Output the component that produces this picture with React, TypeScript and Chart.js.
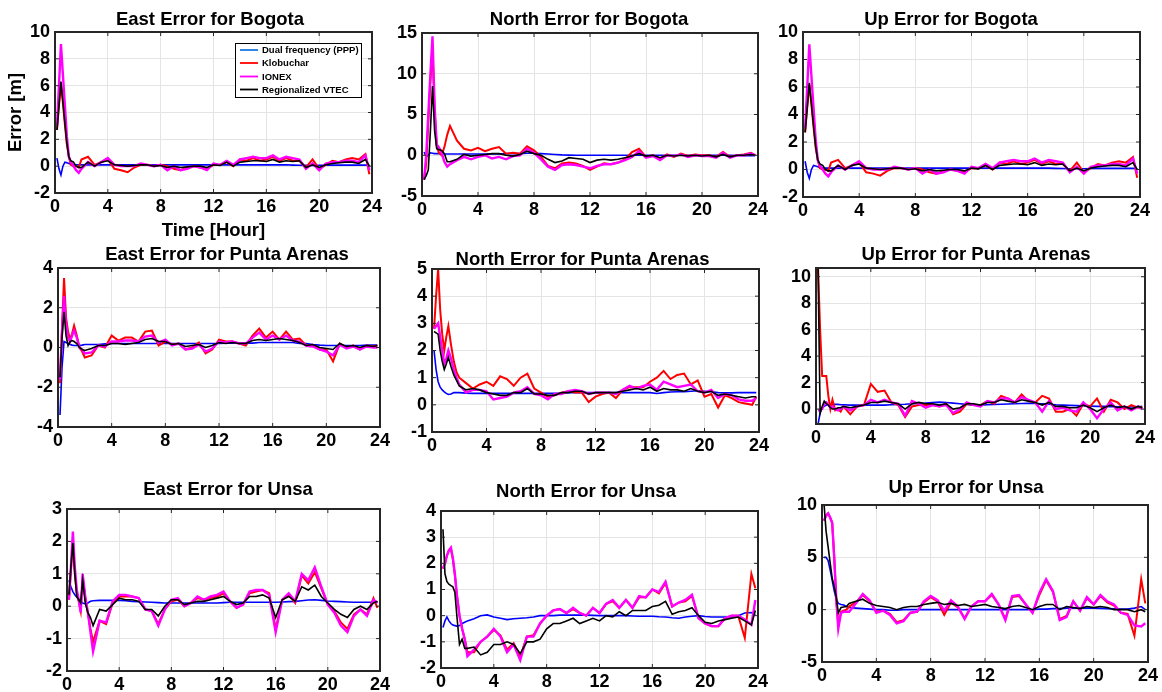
import React, { useEffect, useRef } from "react";
import { Chart, registerables } from "chart.js";

Chart.register(...registerables);

const FONT = '"Liberation Sans", Arial, Helvetica, sans-serif';

// Time axis (hours) shared by every series
const T = [
  0.15, 0.3, 0.45, 0.6, 0.75, 0.9, 1.05, 1.2, 1.4, 1.6, 1.8, 2.0,
  2.5, 3, 3.5, 4, 4.5, 5, 5.5, 6, 6.5, 7, 7.5, 8,
  8.5, 9, 9.5, 10, 10.5, 11, 11.5, 12, 12.5, 13, 13.5, 14,
  14.5, 15, 15.5, 16, 16.5, 17, 17.5, 18, 18.5, 19, 19.5, 20,
  20.5, 21, 21.5, 22, 22.5, 23, 23.5, 23.8,
];

const X_TICKS = [0, 4, 8, 12, 16, 20, 24];

const SERIES_LABELS = ["Dual frequency (PPP)", "Klobuchar", "IONEX", "Regionalized VTEC"];
const SERIES_COLORS = ["#0000ff", "#ff0000", "#ff00ff", "#000000"];
const LEGEND_COLORS = ["#1a78e0", "#ff0000", "#ff00ff", "#000000"];

// ---------- East Error for Bogota ----------
const EB_PPP = [
  0.6, -0.2, -0.65, 0.0, 0.3, 0.25, 0.2, 0.15, 0.12, 0.1, 0.1, 0.1,
  0.1, 0.1, 0.1, 0.1, 0.1, 0.1, 0.1, 0.1, 0.1, 0.1, 0.1, 0.1,
  0.1, 0.1, 0.1, 0.1, 0.1, 0.1, 0.1, 0.1, 0.1, 0.1, 0.1, 0.1,
  0.1, 0.1, 0.1, 0.1, 0.1, 0.1, 0.1, 0.08, 0.07, 0.06, 0.06, 0.06,
  0.07, 0.08, 0.08, 0.08, 0.08, 0.08, 0.08, 0.06,
];
const EB_KLO = [
  2.7, 4.5, 6.2, 4.7, 3.1, 1.6, 0.7, 0.1, 0.0, 0.0, -0.1, 0.5,
  0.7, 0.1, 0.3, 0.5, -0.2, -0.3, -0.45, -0.1, 0.1, 0.1, 0.0, 0.1,
  0.0, -0.2, -0.3, -0.1, 0.0, -0.1, -0.2, 0.1, 0.1, 0.3, 0.0, 0.5,
  0.4, 0.6, 0.4, 0.5, 0.7, 0.4, 0.6, 0.4, 0.4, -0.1, 0.5, -0.2,
  0.1, 0.4, 0.3, 0.5, 0.6, 0.5, 0.9, -0.6,
];
const EB_ION = [
  3.0, 6.0, 9.1, 6.8, 4.5, 2.2, 0.7, 0.3, 0.0, -0.3, -0.5, -0.2,
  0.3, 0.0, 0.3, 0.6, 0.1, 0.0, 0.0, 0.0, 0.2, 0.1, 0.0, 0.1,
  -0.3, 0.0, -0.3, -0.2, 0.0, -0.1, -0.3, 0.2, 0.1, 0.4, 0.1, 0.5,
  0.6, 0.7, 0.6, 0.6, 0.8, 0.5, 0.7, 0.6, 0.5, -0.2, 0.2, -0.3,
  0.2, 0.3, 0.3, 0.4, 0.4, 0.3, 0.8, -0.3,
];
const EB_VTEC = [
  2.7, 4.5, 6.3, 4.8, 3.2, 1.7, 0.7, 0.4, 0.3, 0.0, -0.1, -0.1,
  0.3, 0.0, 0.3, 0.4, 0.1, 0.05, 0.0, 0.05, 0.1, 0.1, 0.0, 0.05,
  -0.1, 0.0, -0.1, -0.05, 0.0, 0.0, -0.1, 0.1, 0.05, 0.3, 0.0, 0.3,
  0.35, 0.4, 0.4, 0.35, 0.5, 0.3, 0.4, 0.35, 0.4, -0.1, 0.1, -0.1,
  0.1, 0.2, 0.25, 0.3, 0.3, 0.2, 0.5, 0.0,
];

// ---------- North Error for Bogota ----------
const NB_PPP = [
  0.4, -0.2, 0.0, 0.3, 0.25, 0.2, 0.2, 0.2, 0.15, 0.15, 0.15, 0.15,
  0.15, 0.15, 0.15, 0.15, 0.15, 0.15, 0.15, 0.2, 0.2, 0.2, 0.25, 0.25,
  0.2, 0.15, 0.1, 0.05, 0.02, 0.0, 0.0, 0.0, 0.0, 0.0, 0.0, 0.0,
  0.0, 0.0, 0.0, 0.0, 0.0, 0.0, 0.0, 0.0, 0.0, 0.0, 0.0, 0.0,
  0.0, 0.0, 0.0, -0.02, -0.03, -0.04, -0.05, -0.05,
];
const NB_KLO = [
  -3.0, -1.0, 4.0, 9.0, 13.0, 5.5, 1.2, 0.3, 0.0, 1.0, 2.5, 3.6,
  1.8, 0.8, 0.6, 0.9, 0.5, 0.8, 1.0, 0.2, 0.3, 0.2, 1.1, 0.6,
  -0.2, -1.3, -1.6, -1.0, -0.9, -1.0, -1.3, -1.8, -1.4, -1.0, -1.1, -0.9,
  -0.5, 0.4, 0.8, -0.2, 0.0, -0.4, 0.1, -0.2, 0.2, -0.1, 0.1, 0.0,
  0.0, -0.2, 0.4, -0.2, 0.0, 0.1, 0.3, 0.0,
];
const NB_ION = [
  -3.0, 0.0, 5.0, 10.0, 14.6, 6.0, 1.3, 1.0, 0.3, -0.8, -1.4, -1.1,
  -0.6, -0.2, -0.5, -0.2, 0.0, -0.4, -0.2, -0.5, -0.1, 0.0, 0.8, 0.3,
  -0.5, -1.4, -1.8, -1.2, -1.1, -1.2, -1.4, -1.6, -1.3, -1.1, -1.1, -0.9,
  -0.6, -0.2, 0.5, -0.3, -0.1, -0.6, 0.0, -0.1, 0.1, -0.2, 0.0, -0.1,
  -0.1, -0.3, 0.3, -0.3, 0.0, 0.0, 0.2, 0.0,
];
const NB_VTEC = [
  -3.0, -2.5, -1.8, 3.0, 8.5, 3.0, 0.8, 0.7, 0.6, 0.2, -0.8, -0.8,
  -0.5, 0.1, -0.1, 0.0, 0.1, 0.2, 0.2, 0.0, -0.1, 0.1, 0.5, 0.2,
  0.0, -0.5, -0.9, -0.7, -0.3, -0.4, -0.5, -0.9, -0.6, -0.5, -0.6, -0.5,
  -0.3, -0.1, 0.2, -0.1, 0.0, -0.3, 0.0, -0.1, 0.0, -0.1, 0.0, -0.1,
  0.0, -0.2, 0.1, -0.2, 0.0, 0.0, 0.1, 0.0,
];

// ---------- Up Error for Bogota (identical curves to the East panel in the source figure) ----------
const UB_PPP = EB_PPP;
const UB_KLO = EB_KLO;
const UB_ION = EB_ION;
const UB_VTEC = EB_VTEC;

// ---------- East Error for Punta Arenas ----------
const EP_PPP = [
  -3.4, -1.0, 0.3, 0.25, 0.2, 0.15, 0.12, 0.1, 0.1, 0.1, 0.12, 0.15,
  0.15, 0.15, 0.18, 0.2, 0.2, 0.2, 0.2, 0.2, 0.2, 0.2, 0.2, 0.2,
  0.2, 0.2, 0.2, 0.2, 0.2, 0.2, 0.2, 0.2, 0.22, 0.22, 0.22, 0.22,
  0.22, 0.25, 0.25, 0.25, 0.25, 0.25, 0.25, 0.2, 0.2, 0.15, 0.12, 0.1,
  0.1, 0.1, 0.1, 0.1, 0.1, 0.12, 0.12, 0.12,
];
const EP_KLO = [
  -1.8, 1.0, 3.5, 1.5, 0.8, 0.4, 0.7, 1.1, 0.6, 0.0, -0.2, -0.5,
  -0.4, 0.1, 0.0, 0.6, 0.35, 0.5, 0.5, 0.3, 0.8, 0.85, 0.1, 0.3,
  0.15, 0.2, -0.1, 0.0, 0.25, -0.3, -0.1, 0.4, 0.3, 0.3, 0.2, 0.1,
  0.6, 0.95, 0.5, 0.8, 0.4, 0.8, 0.4, 0.45, 0.1, 0.1, -0.1, -0.1,
  -0.7, 0.2, 0.0, 0.1, -0.1, 0.1, 0.05, 0.1,
];
const EP_ION = [
  -1.6, 0.8, 2.6, 1.2, 0.5, 0.3, 0.6, 0.85, 0.5, 0.0, -0.1, -0.3,
  -0.25, 0.1, 0.05, 0.3, 0.3, 0.35, 0.35, 0.3, 0.55, 0.6, 0.25, 0.4,
  0.1, 0.2, -0.1, -0.05, 0.15, -0.2, -0.05, 0.3, 0.25, 0.3, 0.2, 0.2,
  0.5, 0.75, 0.4, 0.6, 0.4, 0.6, 0.35, 0.3, 0.1, 0.05, -0.1, -0.2,
  -0.4, 0.15, -0.05, 0.05, -0.1, 0.05, 0.0, 0.0,
];
const EP_VTEC = [
  -1.5, 0.5, 1.8, 0.6, 0.1, 0.3, 0.35, 0.3, 0.2, 0.0, -0.1, -0.15,
  -0.05, 0.1, 0.1, 0.2, 0.2, 0.15, 0.2, 0.25, 0.4, 0.45, 0.3, 0.3,
  0.15, 0.2, 0.05, 0.1, 0.15, 0.0, 0.1, 0.25, 0.2, 0.25, 0.2, 0.2,
  0.35, 0.4, 0.35, 0.4, 0.45, 0.4, 0.35, 0.25, 0.1, 0.15, 0.0, -0.05,
  -0.1, 0.2, 0.05, 0.1, 0.0, 0.1, 0.05, 0.1,
];

// ---------- North Error for Punta Arenas ----------
const NP_PPP = [
  2.0, 1.3, 0.85, 0.65, 0.55, 0.48, 0.42, 0.38, 0.4, 0.45, 0.45, 0.45,
  0.43, 0.42, 0.42, 0.42, 0.42, 0.42, 0.42, 0.42, 0.42, 0.42, 0.42, 0.42,
  0.42, 0.42, 0.43, 0.45, 0.45, 0.45, 0.45, 0.45, 0.45, 0.45, 0.45, 0.45,
  0.45, 0.45, 0.45, 0.45, 0.42, 0.45, 0.47, 0.48, 0.48, 0.5, 0.52, 0.5,
  0.48, 0.45, 0.44, 0.44, 0.45, 0.45, 0.45, 0.45,
];
const NP_KLO = [
  2.8, 4.0, 5.0, 3.5, 2.6, 2.0, 2.5, 2.9, 2.2, 1.6, 1.2, 1.0,
  0.8, 0.6, 0.75, 0.85, 0.7, 1.05, 0.95, 0.7, 1.0, 1.15, 0.6, 0.45,
  0.3, 0.35, 0.45, 0.5, 0.45, 0.45, 0.1, 0.3, 0.4, 0.45, 0.25, 0.55,
  0.65, 0.65, 0.65, 0.85, 1.0, 1.25, 0.95, 1.1, 1.15, 0.75, 0.9, 0.3,
  0.4, -0.1, 0.35, 0.25, 0.1, 0.05, 0.0, 0.3,
];
const NP_ION = [
  2.8, 2.9, 3.0, 2.5, 2.0, 1.5, 1.7, 2.0, 1.7, 1.3, 1.0, 0.75,
  0.45, 0.55, 0.55, 0.5, 0.2, 0.25, 0.3, 0.45, 0.5, 0.65, 0.4, 0.35,
  0.2, 0.4, 0.4, 0.5, 0.55, 0.5, 0.4, 0.45, 0.45, 0.45, 0.4, 0.55,
  0.7, 0.6, 0.7, 0.75, 0.55, 0.85, 0.75, 0.65, 0.7, 0.75, 0.5, 0.45,
  0.55, 0.25, 0.4, 0.35, 0.2, 0.15, 0.15, 0.25,
];
const NP_VTEC = [
  2.7, 2.65, 2.6, 2.0, 1.6, 1.3, 1.5, 1.75, 1.4, 1.1, 0.9, 0.7,
  0.55, 0.6, 0.55, 0.45, 0.4, 0.35, 0.35, 0.45, 0.45, 0.6, 0.4, 0.4,
  0.35, 0.35, 0.45, 0.45, 0.5, 0.5, 0.4, 0.45, 0.45, 0.45, 0.45, 0.5,
  0.55, 0.6, 0.55, 0.65, 0.5, 0.6, 0.55, 0.55, 0.5, 0.6, 0.5, 0.45,
  0.5, 0.35, 0.4, 0.35, 0.3, 0.25, 0.3, 0.3,
];

// ---------- Up Error for Punta Arenas ----------
const UP_PPP = [
  -1.14, -0.3, 0.1, 0.2, 0.3, 0.32, 0.34, 0.35, 0.35, 0.35, 0.33, 0.32,
  0.3, 0.3, 0.3, 0.3, 0.3, 0.3, 0.32, 0.34, 0.36, 0.4, 0.42, 0.45,
  0.5, 0.52, 0.5, 0.45, 0.4, 0.35, 0.3, 0.3, 0.32, 0.34, 0.36, 0.38,
  0.4, 0.42, 0.43, 0.42, 0.4, 0.36, 0.32, 0.3, 0.28, 0.26, 0.25, 0.22,
  0.2, 0.2, 0.18, 0.17, 0.16, 0.15, 0.17, 0.2,
];
const UP_KLO = [
  10.7, 6.0, 2.5, 2.5, 2.5, 1.0, 0.0, 0.7, -0.1, 0.0, -0.2, 0.2,
  -0.4, 0.2, 0.3, 1.9, 1.3, 1.4, 0.5, 0.3, -0.6, 0.2, 0.3, 0.3,
  0.3, 0.2, 0.4, -0.4, -0.2, 0.4, 0.3, 0.3, 0.6, 0.4, 1.0, 0.8,
  0.5, 1.1, 0.6, 0.5, 1.0, 0.8, -0.2, -0.2, 0.0, -0.5, 0.4, 0.2,
  0.8, -0.2, 0.7, 0.5, 0.0, 0.3, 0.1, 0.15,
];
const UP_ION = [
  -0.1, -0.1, 0.0, 0.4, 0.5, 0.3, 0.1, 0.2, 0.0, -0.1, 0.0, 0.2,
  -0.1, 0.2, 0.3, 0.7, 0.5, 0.7, 0.5, 0.4, -0.5, 0.6, 0.4, 0.1,
  0.3, 0.2, 0.3, -0.3, 0.0, 0.5, 0.3, 0.2, 0.6, 0.5, 0.8, 0.8,
  0.5, 0.9, 0.7, 0.5, -0.2, 0.6, 0.0, 0.1, -0.1, -0.2, 0.5, 0.0,
  -0.7, 0.0, 0.5, -0.1, 0.2, -0.1, 0.2, 0.0,
];
const UP_VTEC = [
  10.7, -0.3, 0.2, 0.6, 0.4, 0.3, 0.1, 0.0, 0.0, 0.1, 0.1, 0.2,
  0.1, 0.2, 0.3, 0.5, 0.5, 0.6, 0.5, 0.4, 0.0, 0.4, 0.5, 0.4,
  0.4, 0.3, 0.4, 0.0, 0.1, 0.4, 0.4, 0.3, 0.5, 0.5, 0.7, 0.6,
  0.5, 0.7, 0.6, 0.5, 0.3, 0.5, 0.2, 0.2, 0.1, 0.1, 0.3, 0.1,
  -0.2, 0.1, 0.3, 0.1, 0.2, 0.0, 0.2, 0.1,
];

// ---------- East Error for Unsa ----------
const EU_PPP = [
  0.8, 0.6, 0.45, 0.35, 0.28, 0.22, 0.15, 0.1, 0.07, 0.1, 0.15, 0.17,
  0.18, 0.18, 0.18, 0.18, 0.17, 0.15, 0.14, 0.13, 0.12, 0.11, 0.1, 0.1,
  0.1, 0.1, 0.1, 0.1, 0.1, 0.1, 0.1, 0.11, 0.12, 0.12, 0.12, 0.12,
  0.12, 0.12, 0.12, 0.12, 0.13, 0.14, 0.15, 0.17, 0.19, 0.2, 0.18, 0.16,
  0.15, 0.14, 0.13, 0.12, 0.12, 0.12, 0.12, 0.13,
];
const EU_KLO = [
  0.2, 1.1, 2.0, 1.0, 0.4, 0.15, -0.15, 0.9, 0.25, -0.2, -0.7, -1.1,
  -0.45, -0.55, 0.1, 0.3, 0.3, 0.3, 0.25, -0.1, -0.15, -0.55, -0.1, 0.15,
  0.2, 0.0, 0.1, 0.25, 0.2, 0.25, 0.3, 0.4, 0.15, -0.05, 0.05, 0.4,
  0.45, 0.5, 0.4, -0.7, 0.2, 0.35, 0.1, 0.95, 0.7, 1.05, 0.55, 0.05,
  -0.15, -0.5, -0.7, -0.25, -0.1, -0.25, 0.25, -0.05,
];
const EU_ION = [
  0.2, 1.2, 2.3, 1.2, 0.5, 0.2, -0.2, 1.0, 0.3, -0.2, -0.8, -1.4,
  -0.45, -0.5, 0.15, 0.35, 0.35, 0.3, 0.25, -0.1, -0.15, -0.6, -0.1, 0.2,
  0.25, 0.0, 0.1, 0.3, 0.2, 0.3, 0.35, 0.45, 0.15, -0.05, 0.05, 0.45,
  0.5, 0.5, 0.35, -0.8, 0.2, 0.4, 0.15, 1.0, 0.8, 1.2, 0.6, 0.05,
  -0.2, -0.6, -0.8, -0.3, -0.1, -0.3, 0.2, 0.1,
];
const EU_VTEC = [
  0.35, 1.2, 1.95, 1.0, 0.3, 0.2, 0.1, 0.8, 0.1, -0.2, -0.35, -0.6,
  -0.1, -0.15, 0.05, 0.25, 0.2, 0.2, 0.15, -0.1, -0.1, -0.3, 0.0, 0.2,
  0.2, 0.05, 0.1, 0.15, 0.15, 0.2, 0.25, 0.3, 0.15, 0.05, 0.1, 0.3,
  0.3, 0.35, 0.25, -0.35, 0.2, 0.3, 0.15, 0.6, 0.5, 0.65, 0.3, 0.1,
  -0.1, -0.25, -0.35, -0.1, 0.0, -0.1, 0.1, 0.15,
];

// ---------- North Error for Unsa ----------
const NU_PPP = [
  -0.45, -0.2, -0.05, -0.2, -0.3, -0.36, -0.38, -0.4, -0.38, -0.3, -0.25, -0.2,
  -0.12, 0.0, 0.03, -0.05, -0.1, -0.15, -0.12, -0.1, -0.08, -0.05, 0.0, 0.0,
  0.0, 0.02, 0.02, 0.02, 0.02, 0.02, 0.01, 0.0, 0.0, 0.0, 0.0, 0.0,
  -0.01, -0.02, -0.02, -0.02, -0.04, -0.05, -0.08, -0.1, -0.05, -0.02, 0.0, -0.03,
  -0.05, -0.05, -0.05, -0.05, 0.0, 0.1, 0.12, 0.02,
];
const NU_KLO = [
  1.8, 2.0, 2.3, 2.5, 2.55, 2.15, 1.55, 0.8, 0.0, -0.5, -0.9, -1.4,
  -1.4, -1.0, -0.8, -0.55, -0.75, -1.3, -1.05, -1.55, -0.8, -0.75, -0.3, 0.0,
  0.2, 0.25, 0.1, 0.25, 0.1, 0.0, 0.3, 0.1, 0.45, 0.55, 0.3, 0.6,
  0.3, 0.7, 0.7, 1.0, 0.85, 1.25, 0.35, 0.5, 0.55, 0.75, -0.1, -0.3,
  -0.4, -0.4, -0.1, 0.0, 0.0, -0.85, 1.6, 1.05,
];
const NU_ION = [
  1.8, 2.0, 2.3, 2.5, 2.6, 2.2, 1.6, 0.8, 0.0, -0.5, -0.9, -1.55,
  -1.3, -1.0, -0.8, -0.5, -0.8, -1.4, -1.1, -1.7, -0.8, -0.8, -0.3, 0.0,
  0.2, 0.25, 0.1, 0.3, 0.1, 0.0, 0.3, 0.1, 0.45, 0.6, 0.3, 0.6,
  0.3, 0.75, 0.7, 1.0, 0.9, 1.3, 0.35, 0.5, 0.6, 0.8, -0.1, -0.3,
  -0.4, -0.4, -0.1, 0.0, 0.0, -0.15, -0.35, 0.6,
];
const NU_VTEC = [
  3.3, 1.6, 1.3, 1.2, 1.15, 1.1, 0.9, 0.0, -1.1, -0.9, -1.25, -1.25,
  -1.2, -1.5, -1.4, -1.1, -1.1, -1.0, -1.1, -1.45, -1.0, -1.0, -0.9, -0.5,
  -0.3, -0.3, -0.2, -0.1, -0.3, -0.2, -0.1, -0.2, 0.0, -0.05, 0.15, 0.0,
  0.2, 0.2, 0.2, 0.35, 0.4, 0.55, 0.05, 0.15, 0.2, 0.3, 0.0, -0.25,
  -0.3, -0.2, -0.15, -0.1, -0.05, -0.2, -0.35, 0.2,
];

// ---------- Up Error for Unsa ----------
const UU_PPP = [
  5.0, 5.0, 4.7, 3.8, 2.8, 1.8, 1.0, 0.6, 0.5, 0.45, 0.3, 0.2,
  0.15, 0.1, 0.05, 0.0, 0.0, -0.05, -0.05, 0.0, 0.0, 0.0, 0.0, 0.0,
  0.0, 0.0, 0.0, 0.0, 0.0, 0.0, 0.0, 0.0, 0.0, 0.0, 0.0, 0.0,
  0.0, 0.0, 0.0, 0.05, 0.05, 0.1, 0.1, 0.15, 0.15, 0.15, 0.15, 0.15,
  0.12, 0.1, 0.08, 0.05, 0.05, 0.15, 0.3, 0.0,
];
const UU_KLO = [
  8.5, 9.0, 9.2, 8.8, 8.3, 5.0, 1.0, -1.5, -0.2, -0.1, 0.0, 0.3,
  0.7, 1.4, 0.8, -0.2, -0.1, -0.4, -1.2, -1.0, -0.3, -0.2, 0.7, 1.2,
  0.8, -0.5, 0.7, 0.2, -0.8, 0.3, 0.8, 0.8, 1.4, 0.5, -0.9, 1.2,
  1.3, 0.5, -0.3, 1.4, 2.8, 1.7, -0.9, -0.6, 0.8, -0.1, 1.1, 0.5,
  1.3, 0.7, 0.4, -0.3, -0.4, -2.5, 2.9, 0.6,
];
const UU_ION = [
  8.5, 9.0, 9.2, 8.8, 8.3, 5.0, 1.0, -1.8, -0.3, -0.2, -0.2, -0.2,
  0.6, 1.5, 0.9, -0.3, -0.1, -0.5, -1.3, -1.1, -0.3, -0.2, 0.8, 1.3,
  0.9, -0.1, 0.9, 0.3, -0.9, 0.3, 0.8, 0.8, 1.5, 0.5, -1.0, 1.3,
  1.4, 0.5, -0.3, 1.6, 2.9, 1.8, -1.0, -0.7, 0.8, -0.1, 1.2, 0.5,
  1.4, 0.8, 0.5, -0.3, -0.5, -1.5, -1.6, -1.3,
];
const UU_VTEC = [
  10.1, 7.5, 6.0, 4.5, 3.0, 2.2, 1.2, -0.3, 0.2, 0.25, 0.3, 0.6,
  0.8, 1.0, 0.6, 0.4, 0.3, 0.2, 0.0, 0.2, 0.3, 0.3, 0.5, 0.6,
  0.7, 0.5, 0.6, 0.4, 0.5, 0.3, 0.4, 0.5, 0.3, 0.2, 0.1, 0.3,
  0.4, 0.2, 0.0, 0.3, 0.5, 0.5, 0.0, 0.3, 0.2, 0.1, 0.3, 0.2,
  0.3, 0.2, 0.0, 0.0, 0.0, -0.2, 0.0, -0.2,
];

// y-axis tick labels per panel
const Y_TICKS_EB = [-2, 0, 2, 4, 6, 8, 10];
const Y_TICKS_NB = [-5, 0, 5, 10, 15];
const Y_TICKS_UB = [-2, 0, 2, 4, 6, 8, 10];
const Y_TICKS_EP = [-4, -2, 0, 2, 4];
const Y_TICKS_NP = [-1, 0, 1, 2, 3, 4, 5];
const Y_TICKS_UP = [0, 2, 4, 6, 8, 10];
const Y_TICKS_EU = [-2, -1, 0, 1, 2, 3];
const Y_TICKS_NU = [-2, -1, 0, 1, 2, 3, 4];
const Y_TICKS_UU = [-5, 0, 5, 10];

type PanelDef = {
  title: string;
  titleAt: [number, number];
  box: [number, number, number, number];
  yMin: number;
  yMax: number;
  yTicks: number[];
  series: number[][];
  legend?: boolean;
  xTitle?: string;
  yTitle?: string;
};

const PANELS: PanelDef[] = [
  { title: "East Error for Bogota", titleAt: [210, 19.5], box: [55, 32, 372, 193], yMin: -2, yMax: 10, yTicks: Y_TICKS_EB,
    series: [EB_PPP, EB_KLO, EB_ION, EB_VTEC], legend: true, xTitle: "Time [Hour]", yTitle: "Error [m]" },
  { title: "North Error for Bogota", titleAt: [589, 19.5], box: [422, 33, 758, 196], yMin: -5, yMax: 15, yTicks: Y_TICKS_NB,
    series: [NB_PPP, NB_KLO, NB_ION, NB_VTEC] },
  { title: "Up Error for Bogota", titleAt: [951, 20], box: [803, 32, 1140, 197], yMin: -2, yMax: 10, yTicks: Y_TICKS_UB,
    series: [UB_PPP, UB_KLO, UB_ION, UB_VTEC] },
  { title: "East Error for Punta Arenas", titleAt: [227, 255], box: [58, 268, 380, 427], yMin: -4, yMax: 4, yTicks: Y_TICKS_EP,
    series: [EP_PPP, EP_KLO, EP_ION, EP_VTEC] },
  { title: "North Error for Punta Arenas", titleAt: [582.5, 260], box: [432, 269, 759, 432], yMin: -1, yMax: 5, yTicks: Y_TICKS_NP,
    series: [NP_PPP, NP_KLO, NP_ION, NP_VTEC] },
  { title: "Up Error for Punta Arenas", titleAt: [976, 255], box: [816, 268, 1145, 424], yMin: -1.13, yMax: 10.66, yTicks: Y_TICKS_UP,
    series: [UP_PPP, UP_KLO, UP_ION, UP_VTEC] },
  { title: "East Error for Unsa", titleAt: [228, 490], box: [67, 509, 380, 671], yMin: -2, yMax: 3, yTicks: Y_TICKS_EU,
    series: [EU_PPP, EU_KLO, EU_ION, EU_VTEC] },
  { title: "North Error for Unsa", titleAt: [586, 492], box: [441, 511, 758, 668], yMin: -2, yMax: 4, yTicks: Y_TICKS_NU,
    series: [NU_PPP, NU_KLO, NU_ION, NU_VTEC] },
  { title: "Up Error for Unsa", titleAt: [966, 488], box: [822, 505, 1148, 662], yMin: -5, yMax: 10, yTicks: Y_TICKS_UU,
    series: [UU_PPP, UU_KLO, UU_ION, UU_VTEC] },
];

const SERIES_WIDTHS = [1.6, 2, 2.4, 1.6];
const SERIES_ORDER = [3, 2, 1, 0];

const YW = 55;
const TOP = 32;
const RPAD = 16;

function PanelChart({ p }: { p: PanelDef }) {
  const ref = useRef<HTMLCanvasElement>(null);
  const [l, t, r, b] = p.box;
  const bot = p.xTitle ? 52 : 28;
  const cl = l - YW;
  const ct = t - TOP;
  const cw = YW + (r - l) + RPAD;
  const ch = TOP + (b - t) + bot;

  useEffect(() => {
    const canvas = ref.current;
    if (!canvas) return;
    const tickFont = { family: FONT, size: 18, weight: "bold" as const };

    const decor = {
      id: "panelDecor",
      afterDatasetsDraw(chart: any) {
        const { ctx, chartArea: a, scales } = chart;
        ctx.save();
        ctx.strokeStyle = "#262626";
        ctx.lineWidth = 1;
        ctx.beginPath();
        for (const v of X_TICKS) {
          const x = scales.x.getPixelForValue(v);
          ctx.moveTo(x, a.bottom);
          ctx.lineTo(x, a.bottom - 4);
          ctx.moveTo(x, a.top);
          ctx.lineTo(x, a.top + 4);
        }
        for (const v of p.yTicks) {
          const y = scales.y.getPixelForValue(v);
          ctx.moveTo(a.left, y);
          ctx.lineTo(a.left + 4, y);
          ctx.moveTo(a.right, y);
          ctx.lineTo(a.right - 4, y);
        }
        ctx.stroke();
        ctx.lineWidth = 2;
        ctx.strokeRect(a.left, a.top, a.right - a.left, a.bottom - a.top);
        ctx.restore();
      },
      afterDraw(chart: any) {
        const { ctx, chartArea: a } = chart;
        ctx.save();
        ctx.fillStyle = "#000";
        ctx.font = `bold 18.5px ${FONT}`;
        ctx.textAlign = "center";
        ctx.textBaseline = "middle";
        ctx.fillText(p.title, p.titleAt[0] - cl, p.titleAt[1] - ct);
        if (p.legend) {
          const lw = 126;
          const lh = 54;
          const lx = a.right - 11 - lw;
          const ly = a.top + 11;
          ctx.fillStyle = "#fff";
          ctx.fillRect(lx, ly, lw, lh);
          ctx.strokeStyle = "#000";
          ctx.lineWidth = 1;
          ctx.strokeRect(lx + 0.5, ly + 0.5, lw, lh);
          const rows = [7, 20, 33.5, 46.5];
          ctx.font = `bold 9.5px ${FONT}`;
          ctx.textAlign = "left";
          chart.data.datasets.forEach((ds: any, i: number) => {
            const y = ly + rows[i];
            ctx.strokeStyle = LEGEND_COLORS[i];
            ctx.lineWidth = 1.8;
            ctx.beginPath();
            ctx.moveTo(lx + 5, y);
            ctx.lineTo(lx + 23, y);
            ctx.stroke();
            ctx.fillStyle = "#000";
            ctx.fillText(ds.label, lx + 27, y + 0.5);
          });
        }
        ctx.restore();
      },
    };

    const chart = new Chart(canvas, {
      type: "line",
      data: {
        datasets: p.series.map((vals, i) => ({
          label: SERIES_LABELS[i],
          data: T.map((x, j) => ({ x, y: vals[j] })),
          borderColor: SERIES_COLORS[i],
          backgroundColor: SERIES_COLORS[i],
          borderWidth: SERIES_WIDTHS[i],
          pointRadius: 0,
          tension: 0,
          fill: false,
          order: SERIES_ORDER[i],
        })),
      },
      options: {
        responsive: false,
        animation: false,
        events: [],
        layout: { padding: { left: 0, top: TOP, right: RPAD, bottom: 0 } },
        plugins: {
          legend: { display: false },
          tooltip: { enabled: false },
          title: { display: false },
        },
        scales: {
          x: {
            type: "linear",
            min: 0,
            max: 24,
            afterFit: (s: any) => {
              s.height = bot;
            },
            afterBuildTicks: (s: any) => {
              s.ticks = X_TICKS.map((v) => ({ value: v }));
            },
            grid: { color: "#e4e4e4", lineWidth: 1, drawTicks: false },
            border: { display: false },
            ticks: {
              font: tickFont,
              color: "#000",
              padding: 3,
              maxRotation: 0,
              autoSkip: false,
              callback: (v: any) => String(v),
            },
            title: p.xTitle
              ? { display: true, text: p.xTitle, color: "#000", font: { family: FONT, size: 18.5, weight: "bold" }, padding: { top: 0, bottom: 3 } }
              : { display: false },
          },
          y: {
            type: "linear",
            min: p.yMin,
            max: p.yMax,
            afterFit: (s: any) => {
              s.width = YW;
            },
            afterBuildTicks: (s: any) => {
              s.ticks = p.yTicks.map((v) => ({ value: v }));
            },
            grid: { color: "#e4e4e4", lineWidth: 1, drawTicks: false },
            border: { display: false },
            ticks: {
              font: tickFont,
              color: "#000",
              padding: 5,
              autoSkip: false,
              callback: (v: any) => String(v),
            },
            title: p.yTitle
              ? { display: true, text: p.yTitle, color: "#000", font: { family: FONT, size: 18.5, weight: "bold" }, padding: { top: 5, bottom: 0 } }
              : { display: false },
          },
        },
      } as any,
      plugins: [decor],
    });
    return () => chart.destroy();
  }, []);

  return (
    <canvas
      ref={ref}
      width={cw}
      height={ch}
      style={{ position: "absolute", left: cl, top: ct, width: cw, height: ch }}
    />
  );
}

export default function App() {
  return (
    <div
      style={{
        position: "absolute",
        left: 0,
        top: 0,
        width: 1162,
        height: 692,
        overflow: "hidden",
        background: "#fff",
      }}
    >
      {PANELS.map((p, i) => (
        <PanelChart key={i} p={p} />
      ))}
    </div>
  );
}
